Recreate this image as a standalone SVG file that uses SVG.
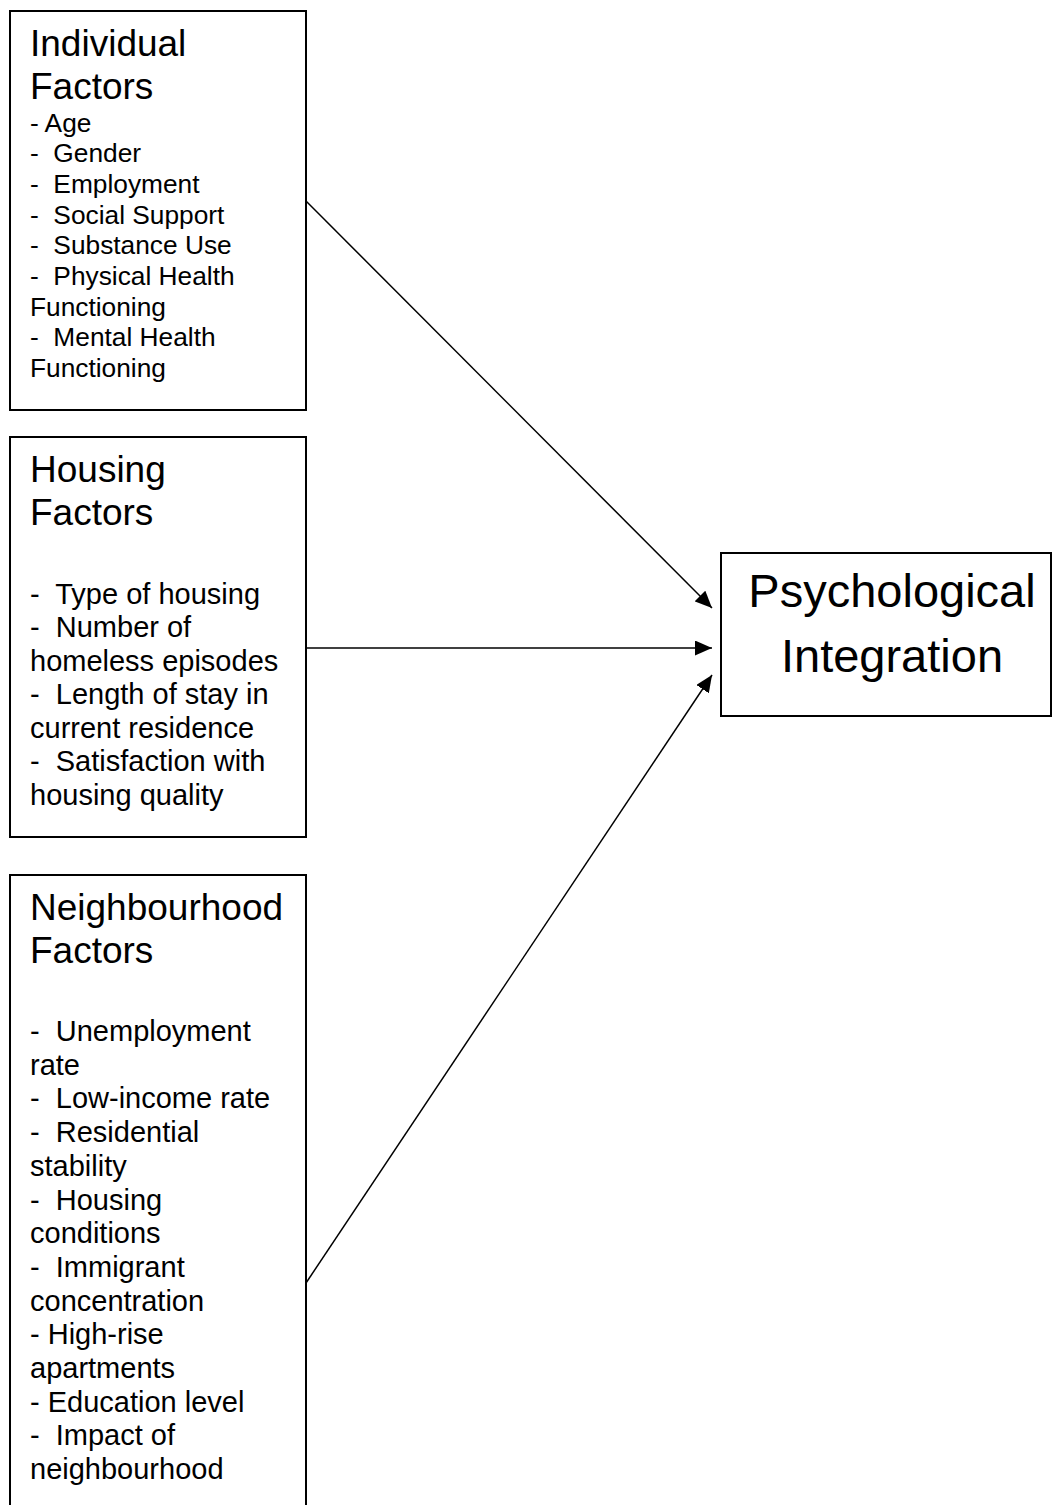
<svg xmlns="http://www.w3.org/2000/svg" width="1052" height="1505" viewBox="0 0 1052 1505" xml:space="preserve">
<style>
  text { font-family: "Liberation Sans", Arial, sans-serif; fill: #000; white-space: pre; }
  .box { fill: #fff; stroke: #000; stroke-width: 2; }
  .head { font-size: 37px; }
  .sm { font-size: 26.3px; }
  .md { font-size: 29px; }
  .psy { font-size: 47px; text-anchor: middle; }
  .conn { stroke: #000; stroke-width: 1.5; fill: none; marker-end: url(#arrow); }
</style>
<defs>
  <marker id="arrow" viewBox="0 0 17 15" refX="17" refY="7.5" markerWidth="17" markerHeight="15" markerUnits="userSpaceOnUse" orient="auto">
    <path d="M0,0 L17,7.5 L0,15 z" fill="#000"/>
  </marker>
</defs>
<rect width="1052" height="1505" fill="#fff"/>

<g id="individual">
  <rect class="box" x="10" y="11" width="296" height="399"/>
  <text class="head" x="30" y="56">Individual</text>
  <text class="head" x="30" y="99">Factors</text>
  <text class="sm" x="30" y="131.5">- Age</text>
  <text class="sm" x="30" y="162.2">-  Gender</text>
  <text class="sm" x="30" y="192.9">-  Employment</text>
  <text class="sm" x="30" y="223.6">-  Social Support</text>
  <text class="sm" x="30" y="254.3">-  Substance Use</text>
  <text class="sm" x="30" y="285">-  Physical Health</text>
  <text class="sm" x="30" y="315.7">Functioning</text>
  <text class="sm" x="30" y="346.4">-  Mental Health</text>
  <text class="sm" x="30" y="377.1">Functioning</text>
</g>

<g id="housing">
  <rect class="box" x="10" y="437" width="296" height="400"/>
  <text class="head" x="30" y="482">Housing</text>
  <text class="head" x="30" y="525">Factors</text>
  <text class="md" x="30" y="603.5">-  Type of housing</text>
  <text class="md" x="30" y="637">-  Number of</text>
  <text class="md" x="30" y="670.5">homeless episodes</text>
  <text class="md" x="30" y="704">-  Length of stay in</text>
  <text class="md" x="30" y="737.5">current residence</text>
  <text class="md" x="30" y="771">-  Satisfaction with</text>
  <text class="md" x="30" y="804.5">housing quality</text>
</g>

<g id="neighbourhood">
  <rect class="box" x="10" y="875" width="296" height="700"/>
  <text class="head" x="30" y="920">Neighbourhood</text>
  <text class="head" x="30" y="963">Factors</text>
  <text class="md" x="30" y="1041">-  Unemployment</text>
  <text class="md" x="30" y="1074.7">rate</text>
  <text class="md" x="30" y="1108.4">-  Low-income rate</text>
  <text class="md" x="30" y="1142.1">-  Residential</text>
  <text class="md" x="30" y="1175.8">stability</text>
  <text class="md" x="30" y="1209.5">-  Housing</text>
  <text class="md" x="30" y="1243.2">conditions</text>
  <text class="md" x="30" y="1276.9">-  Immigrant</text>
  <text class="md" x="30" y="1310.6">concentration</text>
  <text class="md" x="30" y="1344.3">- High-rise</text>
  <text class="md" x="30" y="1378">apartments</text>
  <text class="md" x="30" y="1411.7">- Education level</text>
  <text class="md" x="30" y="1445.4">-  Impact of</text>
  <text class="md" x="30" y="1479.1">neighbourhood</text>
</g>

<g id="psychological">
  <rect class="box" x="721" y="553" width="330" height="163"/>
  <text class="psy" x="892" y="607">Psychological</text>
  <text class="psy" x="892" y="672">Integration</text>
</g>

<g id="connectors">
  <line class="conn" x1="306" y1="201" x2="712" y2="608"/>
  <line class="conn" x1="306" y1="648" x2="712" y2="648"/>
  <line class="conn" x1="306" y1="1283" x2="712" y2="675"/>
</g>
</svg>
